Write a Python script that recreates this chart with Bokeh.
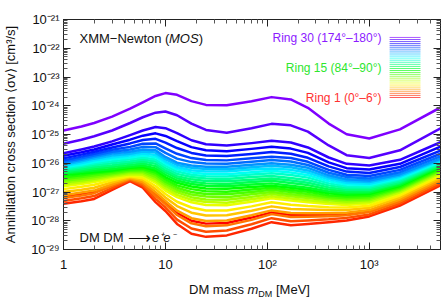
import colorsys
import math
from bokeh.plotting import figure
from bokeh.layouts import column
from bokeh.models import LogAxis, FixedTicker, CustomJSTickFormatter, Label, Range1d, Div
from bokeh.embed import file_html
from bokeh.resources import INLINE

# ---------------- data ----------------
dm_mass_mev = [1, 1.5, 2, 3, 4.5, 6, 8, 10, 13, 18, 25, 40, 70, 110, 170, 250, 400, 600, 1000, 2000, 5000]

# log10 of the upper limit on <sigma v> [cm^3/s], one list per ring
ring_01 = [-27.16, -27.07, -27.00, -26.76, -26.54, -26.69, -27.07, -27.37, -27.73, -28.00, -28.10, -28.08, -27.89, -27.71, -27.80, -27.80, -27.79, -27.77, -27.67, -27.30, -26.61]
ring_02 = [-27.41, -27.32, -27.24, -26.93, -26.62, -26.85, -27.35, -27.66, -28.11, -28.45, -28.56, -28.51, -28.28, -28.05, -28.16, -28.11, -28.05, -27.99, -27.85, -27.47, -26.77]
ring_03 = [-27.31, -27.22, -27.14, -26.86, -26.59, -26.78, -27.24, -27.54, -27.96, -28.27, -28.38, -28.34, -28.12, -27.91, -28.02, -27.99, -27.95, -27.90, -27.78, -27.40, -26.71]
ring_04 = [-27.21, -27.12, -27.04, -26.79, -26.55, -26.72, -27.13, -27.42, -27.80, -28.09, -28.19, -28.16, -27.97, -27.77, -27.87, -27.86, -27.84, -27.81, -27.70, -27.33, -26.64]
ring_05 = [-27.11, -27.02, -26.95, -26.73, -26.52, -26.65, -27.01, -27.31, -27.65, -27.91, -28.01, -27.99, -27.81, -27.64, -27.73, -27.74, -27.74, -27.72, -27.63, -27.26, -26.58]
ring_06 = [-27.00, -26.92, -26.85, -26.66, -26.49, -26.58, -26.90, -27.19, -27.49, -27.72, -27.82, -27.81, -27.65, -27.50, -27.59, -27.61, -27.63, -27.63, -27.55, -27.19, -26.51]
ring_07 = [-26.90, -26.82, -26.75, -26.59, -26.45, -26.52, -26.79, -27.07, -27.34, -27.54, -27.64, -27.64, -27.50, -27.36, -27.44, -27.49, -27.53, -27.54, -27.48, -27.12, -26.45]
ring_08 = [-26.80, -26.72, -26.65, -26.52, -26.42, -26.45, -26.68, -26.95, -27.18, -27.36, -27.45, -27.46, -27.34, -27.22, -27.30, -27.36, -27.42, -27.45, -27.40, -27.05, -26.38]
ring_09 = [-26.74, -26.66, -26.59, -26.47, -26.38, -26.40, -26.61, -26.87, -27.10, -27.27, -27.35, -27.37, -27.25, -27.15, -27.23, -27.29, -27.36, -27.39, -27.35, -27.01, -26.34]
ring_10 = [-26.67, -26.60, -26.54, -26.43, -26.33, -26.34, -26.54, -26.79, -27.01, -27.18, -27.26, -27.27, -27.17, -27.07, -27.15, -27.21, -27.29, -27.33, -27.29, -26.96, -26.30]
ring_11 = [-26.61, -26.54, -26.48, -26.38, -26.29, -26.29, -26.47, -26.71, -26.93, -27.09, -27.16, -27.18, -27.08, -27.00, -27.08, -27.14, -27.23, -27.27, -27.24, -26.92, -26.26]
ring_12 = [-26.55, -26.48, -26.42, -26.34, -26.25, -26.24, -26.39, -26.64, -26.85, -27.00, -27.07, -27.08, -27.00, -26.92, -27.00, -27.07, -27.17, -27.22, -27.18, -26.88, -26.22]
ring_13 = [-26.49, -26.42, -26.36, -26.29, -26.21, -26.19, -26.32, -26.56, -26.77, -26.90, -26.97, -26.99, -26.91, -26.85, -26.93, -26.99, -27.11, -27.16, -27.13, -26.84, -26.18]
ring_14 = [-26.42, -26.36, -26.31, -26.25, -26.16, -26.13, -26.25, -26.48, -26.68, -26.81, -26.88, -26.89, -26.83, -26.78, -26.85, -26.92, -27.04, -27.10, -27.07, -26.79, -26.14]
ring_15 = [-26.36, -26.30, -26.25, -26.20, -26.12, -26.08, -26.18, -26.40, -26.60, -26.72, -26.78, -26.80, -26.74, -26.70, -26.78, -26.85, -26.98, -27.04, -27.02, -26.75, -26.10]
ring_16 = [-26.32, -26.25, -26.19, -26.13, -26.06, -26.01, -26.10, -26.32, -26.52, -26.64, -26.70, -26.72, -26.65, -26.61, -26.69, -26.76, -26.91, -26.98, -26.97, -26.70, -26.07]
ring_17 = [-26.27, -26.20, -26.13, -26.07, -25.99, -25.94, -26.02, -26.25, -26.45, -26.56, -26.62, -26.63, -26.57, -26.53, -26.60, -26.68, -26.84, -26.92, -26.92, -26.66, -26.04]
ring_18 = [-26.23, -26.14, -26.07, -26.00, -25.93, -25.87, -25.94, -26.17, -26.37, -26.48, -26.53, -26.55, -26.48, -26.44, -26.51, -26.59, -26.77, -26.86, -26.86, -26.61, -26.00]
ring_19 = [-26.18, -26.09, -26.01, -25.93, -25.86, -25.80, -25.87, -26.09, -26.29, -26.40, -26.45, -26.46, -26.39, -26.35, -26.41, -26.50, -26.70, -26.80, -26.81, -26.56, -25.97]
ring_20 = [-26.14, -26.04, -25.96, -25.86, -25.80, -25.73, -25.79, -26.01, -26.21, -26.32, -26.37, -26.38, -26.31, -26.26, -26.32, -26.42, -26.63, -26.74, -26.76, -26.52, -25.94]
ring_21 = [-26.09, -25.99, -25.90, -25.80, -25.73, -25.66, -25.71, -25.94, -26.14, -26.24, -26.29, -26.29, -26.22, -26.18, -26.23, -26.33, -26.56, -26.68, -26.71, -26.47, -25.91]
ring_22 = [-26.05, -25.93, -25.84, -25.73, -25.67, -25.59, -25.63, -25.86, -26.06, -26.16, -26.20, -26.21, -26.14, -26.09, -26.14, -26.25, -26.49, -26.62, -26.65, -26.43, -25.87]
ring_23 = [-26.00, -25.88, -25.78, -25.66, -25.60, -25.52, -25.55, -25.78, -25.98, -26.08, -26.12, -26.12, -26.05, -26.00, -26.05, -26.16, -26.42, -26.56, -26.60, -26.38, -25.84]
ring_24 = [-25.95, -25.83, -25.73, -25.60, -25.52, -25.43, -25.44, -25.64, -25.84, -25.96, -26.01, -26.02, -25.95, -25.89, -25.94, -26.06, -26.33, -26.48, -26.53, -26.31, -25.76]
ring_25 = [-25.90, -25.77, -25.67, -25.53, -25.43, -25.32, -25.31, -25.48, -25.67, -25.82, -25.89, -25.90, -25.83, -25.77, -25.82, -25.95, -26.23, -26.40, -26.44, -26.23, -25.67]
ring_26 = [-25.83, -25.70, -25.60, -25.45, -25.31, -25.19, -25.15, -25.28, -25.47, -25.64, -25.73, -25.75, -25.68, -25.61, -25.67, -25.81, -26.11, -26.29, -26.34, -26.13, -25.56]
ring_27 = [-25.74, -25.62, -25.52, -25.35, -25.18, -25.04, -24.96, -25.05, -25.23, -25.44, -25.55, -25.58, -25.50, -25.43, -25.49, -25.64, -25.97, -26.17, -26.22, -26.02, -25.42]
ring_28 = [-25.65, -25.52, -25.42, -25.24, -25.02, -24.86, -24.74, -24.78, -24.95, -25.20, -25.34, -25.38, -25.30, -25.22, -25.28, -25.45, -25.80, -26.02, -26.08, -25.88, -25.27]
ring_29 = [-25.32, -25.18, -25.06, -24.86, -24.60, -24.40, -24.24, -24.20, -24.33, -24.62, -24.84, -24.94, -24.78, -24.63, -24.68, -24.90, -25.38, -25.72, -25.82, -25.55, -24.79]
ring_30 = [-24.86, -24.72, -24.60, -24.38, -24.10, -23.88, -23.66, -23.56, -23.62, -23.84, -23.97, -23.98, -23.84, -23.70, -23.78, -24.07, -24.62, -24.99, -25.14, -24.82, -24.06]

rings = [ring_01, ring_02, ring_03, ring_04, ring_05, ring_06, ring_07, ring_08, ring_09, ring_10,
         ring_11, ring_12, ring_13, ring_14, ring_15, ring_16, ring_17, ring_18, ring_19, ring_20,
         ring_21, ring_22, ring_23, ring_24, ring_25, ring_26, ring_27, ring_28, ring_29, ring_30]

legend_texts = ["Ring 30 (174°–180°)", "Ring 15 (84°–90°)", "Ring 1 (0°–6°)"]
x_ticks = [1, 10, 100, 1000]
y_ticks = [10.0 ** e for e in range(-29, -20)]

X_MIN, X_MAX = 1, 5000
Y_MIN, Y_MAX = 1e-29, 1e-21

# ---------------- styling helpers ----------------
def ring_color(i, n=30):
    h = 0.75 * i / (n - 1)
    r, g, b = colorsys.hsv_to_rgb(h, 1.0, 1.0)
    return "#%02x%02x%02x" % (int(r * 255), int(g * 255), int(b * 255))

FONT = "Liberation Sans"

p = figure(width=445, height=281, x_axis_type="log", y_axis_type="log",
           x_range=Range1d(X_MIN, X_MAX), y_range=Range1d(Y_MIN, Y_MAX),
           output_backend="svg", toolbar_location=None,
           min_border_left=61, min_border_right=5, min_border_top=19, min_border_bottom=32)
p.grid.visible = False
p.outline_line_color = "#222222"
p.background_fill_color = "white"
p.border_fill_color = "white"

sup_js = """
const e = Math.round(Math.log10(tick));
const sup = {"-":"\\u207b","0":"\\u2070","1":"\\u00b9","2":"\\u00b2","3":"\\u00b3","4":"\\u2074","5":"\\u2075","6":"\\u2076","7":"\\u2077","8":"\\u2078","9":"\\u2079"};
if (e === 0) return "1";
if (e === 1) return "10";
return "10" + String(e).split("").map(c => sup[c]).join("");
"""

x_minor = [k * 10.0 ** e for e in range(0, 4) for k in range(2, 10) if k * 10.0 ** e <= X_MAX]
y_minor = [k * 10.0 ** e for e in range(-29, -21) for k in range(2, 10)]

def style_axis(ax, ticks, minor, labels=True):
    ax.ticker = FixedTicker(ticks=ticks, minor_ticks=minor)
    ax.axis_line_color = "#222222"
    ax.major_tick_line_color = "#222222"
    ax.minor_tick_line_color = "#555555"
    ax.major_tick_in = 7
    ax.major_tick_out = 0
    ax.minor_tick_in = 4
    ax.minor_tick_out = 0
    if labels:
        ax.formatter = CustomJSTickFormatter(code=sup_js)
        ax.major_label_text_font = FONT
        ax.major_label_text_font_size = "13px"
        ax.major_label_text_color = "#111111"
    else:
        ax.major_label_text_font_size = "2px"
        ax.major_label_text_alpha = 0
        ax.major_label_standoff = 0

style_axis(p.xaxis[0], x_ticks, x_minor)
style_axis(p.yaxis[0], y_ticks, y_minor)
p.xaxis[0].major_label_standoff = 7
p.yaxis[0].major_label_standoff = 4

top_ax = LogAxis()
right_ax = LogAxis()
style_axis(top_ax, x_ticks, x_minor, labels=False)
style_axis(right_ax, y_ticks, y_minor, labels=False)
p.add_layout(top_ax, "above")
p.add_layout(right_ax, "right")

p.yaxis[0].axis_label = "Annihilation cross section ⟨σv⟩ [cm³/s]"
p.yaxis[0].axis_label_text_font = FONT
p.yaxis[0].axis_label_text_font_size = "13px"
p.yaxis[0].axis_label_text_font_style = "normal"
p.yaxis[0].axis_label_text_color = "#111111"
p.yaxis[0].axis_label_standoff = 10

# ---------------- curves ----------------
for i, ring in enumerate(rings):
    p.line(dm_mass_mev, [10.0 ** v for v in ring], line_color=ring_color(i),
           line_width=2.5, line_join="round", line_cap="round")

# ---------------- legend colour bar (frame-fraction layout) ----------------
lx0, lx1 = 0.865, 0.947
ly_top, ly_bot = 0.922, 0.661
def fx(f):
    return 10 ** (math.log10(X_MIN) + f * (math.log10(X_MAX) - math.log10(X_MIN)))
def fy(f):
    return 10 ** (math.log10(Y_MIN) + f * (math.log10(Y_MAX) - math.log10(Y_MIN)))
xs, ys, cs = [], [], []
for i in range(30):
    f = ly_bot + (ly_top - ly_bot) * i / 29
    xs.append([fx(lx0), fx(lx1)])
    ys.append([fy(f), fy(f)])
    cs.append(ring_color(i))
p.multi_line(xs, ys, line_color=cs, line_width=1, line_alpha=0.65)

# ---------------- texts ----------------
def add_label(text, x, y, size="13px", color="#111111", align="left", style="normal", baseline="middle"):
    p.add_layout(Label(x=x, y=y, x_units="screen", y_units="screen", text=text,
                       text_font=FONT, text_font_size=size, text_color=color,
                       text_align=align, text_baseline=baseline, text_font_style=style))

add_label("XMM−Newton (", 16, 211)
add_label("MOS", 105.5, 211, style="italic")
add_label(")", 135.2, 211)
add_label("DM DM", 16, 12)
add_label("⟶", 64, 12.5, size="16px")
add_label("e⁺e⁻", 111, 12, style="italic", align="right")

add_label(legend_texts[0], 318, 212, size="12px", color="#8c1aff", align="right")
add_label(legend_texts[1], 318, 182, size="12px", color="#2ee62e", align="right")
add_label(legend_texts[2], 318, 152, size="12px", color="#ff3030", align="right")

# x-axis title (italic m with subscript) as real HTML text under the plot
x_title = Div(text='DM mass <i>m</i><sub style="font-size:9px;line-height:0;vertical-align:-3px">DM</sub> [MeV]',
              width=250, height=18, margin=(0, 0, 0, 189),
              styles={"font-family": "Liberation Sans", "font-size": "13px",
                      "line-height": "17px", "color": "#111111", "white-space": "nowrap"})

layout = column(p, x_title, spacing=0)
open("out.html", "w").write(file_html(layout, INLINE))
